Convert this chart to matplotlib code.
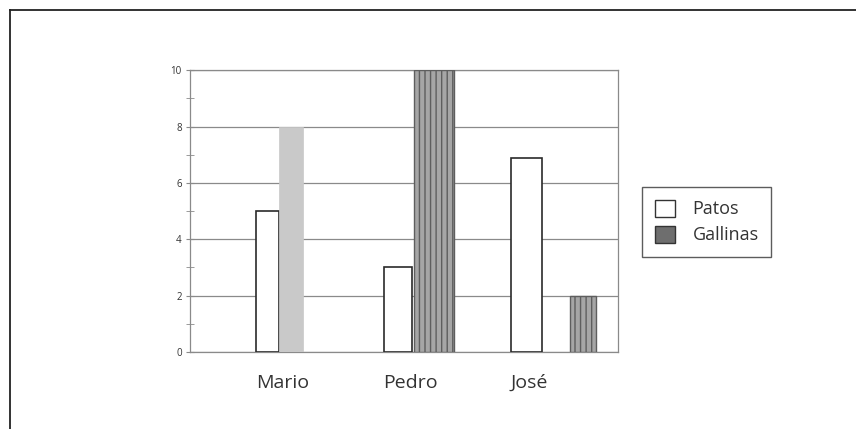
import matplotlib.pyplot as plt
from matplotlib.lines import Line2D
from matplotlib.patches import Patch

plt.rcParams['font.family'] = ['Open Sans', 'DejaVu Sans']

nombres = ['Mario', 'Pedro', 'José']
patos = [5, 3, 6.9]
gallinas = [8, 10, 2]

# hand drawn bars: left edge and width of each bar, in category units
patos_left = [0.46, 1.355, 2.25]
patos_width = [0.166, 0.199, 0.217]
gallinas_left = [0.626, 1.57, 2.663]
gallinas_width = [0.168, 0.28, 0.182]
label_pos = [0.65, 1.543, 2.375]

fig = plt.figure(figsize=(8.56, 4.29), dpi=100)
ax = fig.add_axes([0.222, 0.1795, 0.5005, 0.657])

ax.set_xlim(0, 3)
ax.set_ylim(0, 10)
ax.set_yticks(range(0, 11, 2))
ax.set_yticks(range(1, 10, 2), minor=True)
ax.yaxis.grid(True, color='#8a8a8a', linewidth=0.9)
ax.set_axisbelow(True)
for s in ax.spines.values():
    s.set_color('#8a8a8a')
    s.set_linewidth(0.9)
ax.tick_params(axis='y', which='both', direction='inout', length=6,
               color='#8a8a8a', labelsize=7, labelcolor='#333333', pad=3)
ax.tick_params(axis='x', length=0, labelsize=14, labelcolor='#333333', pad=16)
ax.set_xticks(label_pos)
ax.set_xticklabels(nombres)

# Patos: white bars with dark outline
ax.bar(patos_left, patos, width=patos_width, align='edge',
       facecolor='white', edgecolor='#2a2a2a', linewidth=1.2, zorder=3)

# Gallinas: Mario's is flat grey, the others are pencil shading
ax.bar(gallinas_left[0], gallinas[0], width=gallinas_width[0], align='edge',
       facecolor='#c9c9c9', edgecolor='#c9c9c9', linewidth=0.5, zorder=3)
ax.bar(gallinas_left[1:], gallinas[1:], width=gallinas_width[1:], align='edge',
       facecolor='#a6a6a6', edgecolor='#5e5e5e', hatch='|||',
       linewidth=1.0, zorder=3)

handles = [Patch(facecolor='white', edgecolor='#333333', linewidth=1.0),
           Patch(facecolor='#6e6e6e', edgecolor='#333333', linewidth=1.0)]
leg = fig.legend(handles, ['Patos', 'Gallinas'], loc='upper left',
                 bbox_to_anchor=(642 / 856, 1 - 187 / 429),
                 fontsize=13, frameon=True, fancybox=False,
                 handlelength=1.1, handleheight=1.1, handletextpad=1.0,
                 borderpad=0.7, labelspacing=0.4, borderaxespad=0)
leg.get_frame().set_edgecolor('#333333')
leg.get_frame().set_linewidth(1.0)
for t in leg.get_texts():
    t.set_color('#333333')

# outer frame (top and left only)
fig.add_artist(Line2D([10 / 856, 1], [1 - 10 / 429, 1 - 10 / 429],
                      color='#222222', linewidth=1.3))
fig.add_artist(Line2D([10 / 856, 10 / 856], [0, 1 - 10 / 429],
                      color='#222222', linewidth=1.3))

plt.savefig('out.png', dpi=100)
